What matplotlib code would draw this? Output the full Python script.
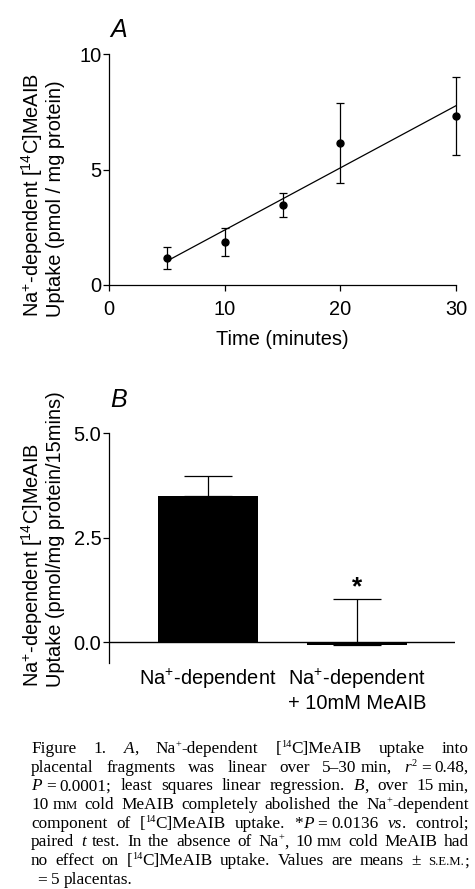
import re
import numpy as np
import matplotlib
matplotlib.use("Agg")
import matplotlib.pyplot as plt

plt.rcParams['font.family'] = ['Liberation Sans', 'DejaVu Sans']
plt.rcParams['mathtext.fontset'] = 'custom'
plt.rcParams['mathtext.rm'] = 'Liberation Sans'
plt.rcParams['mathtext.it'] = 'Liberation Sans:italic'
plt.rcParams['mathtext.bf'] = 'Liberation Sans:bold'

# Panel A: time course
time_min = [5, 10, 15, 20, 30]
uptake_a = [1.18, 1.85, 3.46, 6.16, 7.32]
sem_a = [0.48, 0.61, 0.51, 1.73, 1.68]

# Panel B: effect of cold MeAIB
groups = ["N$\\mathrm{a}^{+}$-dependent", "N$\\mathrm{a}^{+}$-dependent\n+ 10mM MeAIB"]
uptake_b = [3.50, -0.08]
sem_b = [0.48, 1.12]

caption_lines = [
    "Figure 1. {i:A}, Na{s:+}-dependent [{s:14}C]MeAIB uptake into",
    "placental fragments was linear over 5\u201330~min, {i:r}{s:2}~=~0.48,",
    "{i:P}~=~0.0001; least squares linear regression. {i:B}, over 15~min,",
    "10~m{c:m} cold MeAIB completely abolished the Na{s:+}-dependent",
    "component of [{s:14}C]MeAIB uptake. *{i:P}~=~0.0136 {i:vs}. control;",
    "paired {i:t} test. In the absence of Na{s:+}, 10~m{c:m} cold MeAIB had",
    "no effect on [{s:14}C]MeAIB uptake. Values are means \u00b1 {c:s.e.m.};",
    "= 5 placentas.",
]

W, H = 475, 889
FS = 14.4

fig = plt.figure(figsize=(W / 100, H / 100), dpi=100)


def fx(px):
    return px / W


def fy(py):
    return 1 - py / H


# ---- panel A
ax = fig.add_axes([fx(109), fy(285), (456 - 109) / W, (285 - 54) / H])
eb = ax.errorbar(time_min, uptake_a, yerr=sem_a, fmt='o', color='k', ms=5,
                 capsize=2.9, elinewidth=0.9, capthick=0.9)
for art in eb.get_children():
    art.set_clip_on(False)
slope, icpt = np.polyfit(time_min, uptake_a, 1)
xx = np.array([min(time_min), max(time_min)])
ax.plot(xx, slope * xx + icpt, color='k', lw=0.9)
ax.set_xlim(0, 30)
ax.set_ylim(0, 10)
ax.set_xticks([0, 10, 20, 30])
ax.set_yticks([0, 5, 10])
for s in ['top', 'right']:
    ax.spines[s].set_visible(False)
for s in ['left', 'bottom']:
    ax.spines[s].set_linewidth(0.9)
ax.tick_params(direction='out', length=4.5, width=0.9, labelsize=FS)
ax.tick_params(axis='y', pad=1)
ax.tick_params(axis='x', pad=6)
ax.set_xlabel("Time (minutes)", fontsize=FS, labelpad=8)

# ---- panel B
bx = fig.add_axes([fx(109), fy(663), (455 - 109) / W, (663 - 433.3) / H])
xpos = np.arange(len(groups))
bx.bar(xpos, uptake_b, width=0.67, color='k')
bx.errorbar(xpos, uptake_b, yerr=[np.zeros(len(sem_b)), sem_b], fmt='none',
            ecolor='k', elinewidth=0.9, capsize=17, capthick=0.9)
bx.axhline(0, color='k', lw=1)
bx.set_xlim(-0.664, 1.656)
bx.set_ylim(-0.5, 5.0)
bx.set_yticks([0, 2.5, 5.0])
bx.set_yticklabels(["%.1f" % v for v in [0, 2.5, 5.0]])
bx.set_xticks(xpos, groups)
for s in ['top', 'right', 'bottom']:
    bx.spines[s].set_visible(False)
bx.spines['left'].set_linewidth(0.9)
bx.tick_params(direction='out', length=4.5, width=0.9, labelsize=FS)
bx.tick_params(axis='y', pad=1)
bx.tick_params(axis='x', length=0, pad=3)
bx.annotate('*', xy=(1, uptake_b[1] + sem_b[1]), xytext=(0, 8),
            textcoords='offset points', ha='center', va='center',
            fontsize=19, fontweight='bold')

# panel letters
fig.text(fx(110), fy(37), 'A', fontsize=18, style='italic', ha='left', va='baseline')
fig.text(fx(110), fy(407), 'B', fontsize=18, style='italic', ha='left', va='baseline')

# y labels, two lines each
ylab_kw = dict(rotation=90, rotation_mode='anchor', ha='left', va='baseline', fontsize=FS)
line1 = "N$\\mathrm{a}^{+}$-dependent $[^{14}$C]MeAIB"
fig.text(fx(39), fy(317), line1, **ylab_kw)
fig.text(fx(61), fy(317), "Uptake (pmol / mg protein)", **ylab_kw)
fig.text(fx(39), fy(687), line1, **ylab_kw)
fig.text(fx(61), fy(687), "Uptake (pmol/mg protein/15mins)", **ylab_kw)

# ---- caption, justified by hand
CAP_FS = 12.4
cap_px = CAP_FS * 100 / 72
CAP_LEFT, CAP_RIGHT = 31, 469
CAP_BASE, CAP_STEP = 753, 18.7
renderer = fig.canvas.get_renderer()


def runs_of(word):
    out = []
    for part in re.split(r'(\{[isc]:[^}]*\})', word):
        if not part:
            continue
        m = re.fullmatch(r'\{([isc]):([^}]*)\}', part)
        style, txt = m.groups() if m else ('r', part)
        for k, p in enumerate(txt.split('~')):
            if k:
                out.append(('g', ''))
            if p:
                out.append((style, p))
    return out


def make_run(style, txt):
    kw = dict(family='Liberation Serif', fontsize=CAP_FS, ha='left', va='baseline')
    rise = 0
    if style == 'i':
        kw['style'] = 'italic'
    elif style == 's':
        kw['fontsize'] = CAP_FS * 0.6
        rise = 0.34 * cap_px
    elif style == 'c':
        kw['fontsize'] = CAP_FS * 0.74
        txt = txt.upper()
    t = fig.text(0, 0, txt, **kw)
    return t, t.get_window_extent(renderer).width, rise


for i, line in enumerate(caption_lines):
    base = CAP_BASE + i * CAP_STEP
    words = []
    for w in line.split(' '):
        pieces = []
        off = 0
        for style, txt in runs_of(w):
            if style == 'g':
                off += 0.25 * cap_px
                continue
            t, wd, rise = make_run(style, txt)
            pieces.append((t, off, rise))
            off += wd
        words.append((pieces, off))
    total = sum(wd for _, wd in words)
    last = i == len(caption_lines) - 1
    if last or len(words) < 2:
        gap = 0.25 * cap_px
        x = 37
    else:
        gap = (CAP_RIGHT - CAP_LEFT - total) / (len(words) - 1)
        x = CAP_LEFT
    for pieces, wd in words:
        for t, off, rise in pieces:
            t.set_position((fx(x + off), fy(base - rise)))
        x += wd + gap

fig.savefig("out.png", dpi=100)
